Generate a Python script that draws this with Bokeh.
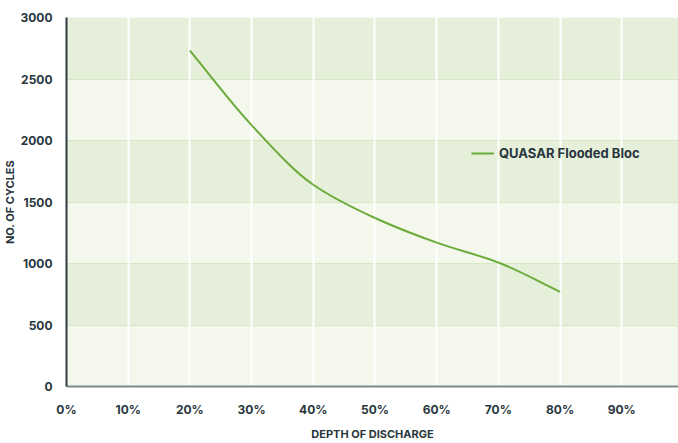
import numpy as np
from bokeh.plotting import figure
from bokeh.models import Range1d, FixedTicker, Legend, LegendItem
from bokeh.embed import file_html
from bokeh.resources import INLINE

# ---- data ----
dod = [20, 30, 40, 50, 60, 70, 80]
cycles = [2730, 2125, 1640, 1370, 1170, 1008, 770]
series_name = "QUASAR Flooded Bloc"
x_ticks = [0, 10, 20, 30, 40, 50, 60, 70, 80, 90]
x_tick_labels = ["0%", "10%", "20%", "30%", "40%", "50%", "60%", "70%", "80%", "90%"]
y_ticks = [0, 500, 1000, 1500, 2000, 2500, 3000]
x_title = "DEPTH OF DISCHARGE"
y_title = "NO. OF CYCLES"

FONT = "Inter"
TXT = "#28363d"
GREEN = "#6aab3a"

p = figure(width=678, height=443, output_backend="svg", toolbar_location=None,
           x_range=Range1d(0, 99.2), y_range=Range1d(0, 3000),
           min_border_left=65, min_border_right=0, min_border_top=17,
           min_border_bottom=56)
p.outline_line_color = None
p.background_fill_color = "#f4f7ec"
p.border_fill_color = "white"

# grids
p.ygrid.ticker = FixedTicker(ticks=y_ticks)
p.ygrid.grid_line_color = "#d7e6c4"
p.ygrid.grid_line_width = 1
p.ygrid.band_fill_color = "#e5efd9"
p.ygrid.band_fill_alpha = 1
p.xgrid.ticker = FixedTicker(ticks=x_ticks)
p.xgrid.grid_line_color = "white"
p.xgrid.grid_line_width = 2
others = [r for r in p.center if r not in (p.xgrid[0], p.ygrid[0])]
p.center = [p.ygrid[0], p.xgrid[0]] + others

# axes
p.xaxis.ticker = FixedTicker(ticks=x_ticks)
p.xaxis.major_label_overrides = {t: l for t, l in zip(x_ticks, x_tick_labels)}
p.yaxis.ticker = FixedTicker(ticks=y_ticks)
for ax in (p.xaxis[0], p.yaxis[0]):
    ax.major_tick_line_color = None
    ax.minor_tick_line_color = None
    ax.major_label_text_font = FONT
    ax.major_label_text_font_style = "bold"
    ax.major_label_text_font_size = "12px"
    ax.major_label_text_color = TXT
    ax.axis_label_text_font = FONT
    ax.axis_label_text_font_style = "bold"
    ax.axis_label_text_font_size = "11px"
    ax.axis_label_text_color = TXT
p.xaxis.axis_line_color = "#7d898e"
p.xaxis.axis_line_width = 2
p.yaxis.axis_line_color = "#2c3b43"
p.yaxis.axis_line_width = 2
p.xaxis.major_label_standoff = 9
p.yaxis.major_label_standoff = 8
p.xaxis.axis_label = x_title
p.yaxis.axis_label = y_title
p.xaxis.axis_label_standoff = 7
p.yaxis.axis_label_standoff = 0

# smooth curve through the data (monotone cubic -> bezier segments)
x = np.array(dod, dtype=float)
y = np.array(cycles, dtype=float)
h = np.diff(x)
d = np.diff(y) / h
m = np.zeros_like(y)
m[0], m[-1] = d[0], d[-1]
for i in range(1, len(y) - 1):
    if d[i - 1] * d[i] <= 0:
        m[i] = 0
    else:
        w1 = 2 * h[i] + h[i - 1]
        w2 = h[i] + 2 * h[i - 1]
        m[i] = (w1 + w2) / (w1 / d[i - 1] + w2 / d[i])
r = p.bezier(x0=x[:-1], y0=y[:-1], x1=x[1:], y1=y[1:],
             cx0=x[:-1] + h / 3, cy0=y[:-1] + m[:-1] * h / 3,
             cx1=x[1:] - h / 3, cy1=y[1:] - m[1:] * h / 3,
             line_color=GREEN, line_width=2)

legend = Legend(items=[LegendItem(label=series_name, renderers=[r])],
                location=(405, 223), padding=0, margin=0, spacing=0,
                glyph_width=23, glyph_height=20, label_standoff=5,
                border_line_color=None, background_fill_alpha=0,
                label_text_font=FONT, label_text_font_style="bold",
                label_text_font_size="13px", label_text_color=TXT)
p.add_layout(legend)

open("out.html", "w").write(file_html(p, INLINE))
